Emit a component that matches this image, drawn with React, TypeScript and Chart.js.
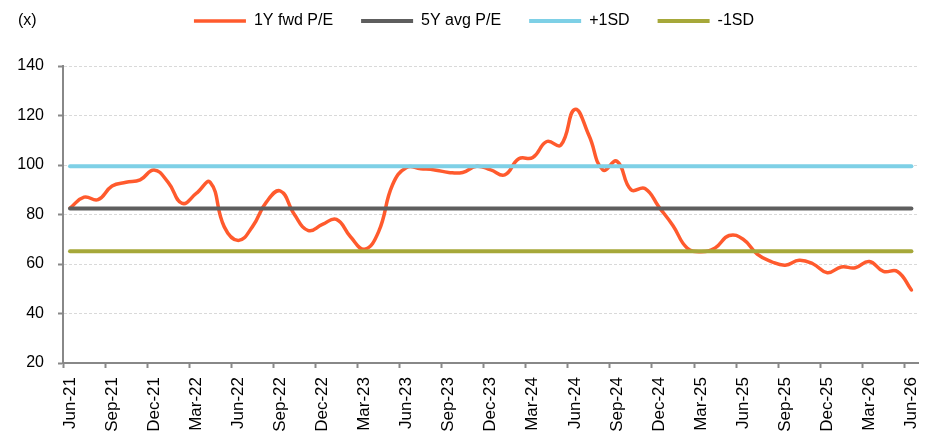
import React, { useEffect, useRef } from "react";
import { Chart, registerables } from "chart.js";

Chart.register(...registerables);

const MONTHS = ["Jan", "Feb", "Mar", "Apr", "May", "Jun", "Jul", "Aug", "Sep", "Oct", "Nov", "Dec"];
const START_YEAR = 2021;
const START_MONTH = 5; // Jun
const N_MONTHS = 61;
const CATEGORIES: string[] = Array.from({ length: N_MONTHS }, (_, i) => {
  const m = START_MONTH + i;
  const y = START_YEAR + Math.floor(m / 12);
  return `${MONTHS[m % 12]}-${String(y).slice(2)}`;
});

const FWD_PE = [
  82.6, 87, 86, 91.5, 93, 94, 98, 93, 84.5, 88.5, 93, 75, 69.5, 75, 85, 89.5,
  80, 73.5, 76, 78, 71, 66, 73, 92, 99, 98.5, 98, 97, 97, 99.5, 98, 96,
  102.5, 103, 109.5, 108, 122.5, 112, 98, 101.5, 90, 90.5, 83, 75.5, 66.5, 65,
  66.5, 71.5, 70, 64, 61, 59.5, 61.5, 60, 56.5, 58.8, 58.5, 61, 57, 57, 49.5,
];
const AVG_5Y = 82.4;
const PLUS_1SD = 99.5;
const MINUS_1SD = 65.2;

const Y_MIN = 20;
const Y_MAX = 140;
const Y_STEP = 20;
const LABEL_EVERY = 3;

const FONT = "'Liberation Sans', Arial, sans-serif";

export default function App() {
  const ref = useRef<HTMLCanvasElement | null>(null);

  useEffect(() => {
    document.body.style.margin = "0";
    const canvas = ref.current;
    if (!canvas) return;

    const legendTweak = {
      id: "legendTweak",
      beforeInit(chart: any) {
        const origFit = chart.legend.fit;
        chart.legend.fit = function () {
          origFit.call(this);
          this.height = 81;
        };
      },
      afterLayout(chart: any) {
        chart.legend.left += 14;
        chart.legend.right += 14;
      },
      afterDraw(chart: any) {
        const ctx = chart.ctx;
        const lg = chart.legend;
        const hb = lg.legendHitBoxes && lg.legendHitBoxes[0];
        const y = hb ? hb.top + hb.height / 2 : 21;
        ctx.save();
        ctx.font = `16px ${FONT}`;
        ctx.fillStyle = "#000";
        ctx.textAlign = "left";
        ctx.textBaseline = "middle";
        ctx.fillText("(x)", 18, y);
        ctx.restore();
      },
    };

    const chart = new Chart(canvas, {
      type: "line",
      data: {
        labels: CATEGORIES,
        datasets: [
          {
            label: "1Y fwd P/E",
            data: FWD_PE,
            borderColor: "#FF5A2D",
            backgroundColor: "#FF5A2D",
            borderWidth: 3.5,
            pointRadius: 0,
            tension: 0.45,
            order: 1,
            borderCapStyle: "round",
          },
          {
            label: "5Y avg P/E",
            data: CATEGORIES.map(() => AVG_5Y),
            borderColor: "#5E5E5E",
            backgroundColor: "#5E5E5E",
            borderWidth: 4,
            pointRadius: 0,
            order: 0,
            borderCapStyle: "round",
          },
          {
            label: "+1SD",
            data: CATEGORIES.map(() => PLUS_1SD),
            borderColor: "#7ED0E6",
            backgroundColor: "#7ED0E6",
            borderWidth: 4,
            pointRadius: 0,
            order: 0,
            borderCapStyle: "round",
          },
          {
            label: "-1SD",
            data: CATEGORIES.map(() => MINUS_1SD),
            borderColor: "#A6A83A",
            backgroundColor: "#A6A83A",
            borderWidth: 4,
            pointRadius: 0,
            order: 0,
            borderCapStyle: "round",
          },
        ],
      },
      options: {
        animation: false,
        responsive: false,
        maintainAspectRatio: false,
        layout: { padding: { top: -15, left: 0, right: 21, bottom: 0 } },
        plugins: {
          tooltip: { enabled: false },
          legend: {
            position: "top",
            labels: {
              usePointStyle: true,
              pointStyle: "line",
              pointStyleWidth: 52,
              padding: 28,
              color: "#000",
              font: { family: FONT, size: 16 },
              sort: (a: any, b: any) => a.datasetIndex - b.datasetIndex,
            },
          },
        },
        scales: {
          x: {
            type: "category",
            offset: true,
            afterFit: (s: any) => {
              s.height = 79;
            },
            grid: {
              offset: true,
              drawOnChartArea: false,
              drawTicks: true,
              tickLength: 5,
              tickWidth: 2,
              color: (c: any) => (c.index % LABEL_EVERY === 0 ? "#888" : "rgba(0,0,0,0)"),
            },
            border: { color: "#888", width: 2 },
            ticks: {
              autoSkip: false,
              maxRotation: 90,
              minRotation: 90,
              padding: 9,
              color: "#000",
              font: { family: FONT, size: 17 },
              callback: (_v: any, i: number) => (i % LABEL_EVERY === 0 ? CATEGORIES[i] : ""),
            },
          },
          y: {
            min: Y_MIN,
            max: Y_MAX,
            afterFit: (s: any) => {
              s.width = 63;
            },
            grid: {
              color: "#D9D9D9",
              lineWidth: 1,
              tickColor: "#888",
              tickWidth: 2,
              tickLength: 5,
              tickBorderDash: [],
            },
            border: { color: "#888", width: 2, dash: [3, 2] },
            ticks: {
              stepSize: Y_STEP,
              padding: 14,
              color: "#000",
              font: { family: FONT, size: 16 },
            },
          },
        },
      },
      plugins: [legendTweak],
    } as any);

    return () => chart.destroy();
  }, []);

  return (
    <div style={{ width: 941, height: 442, position: "relative" }}>
      <canvas ref={ref} width={941} height={442} style={{ width: 941, height: 442, display: "block" }} />
    </div>
  );
}
